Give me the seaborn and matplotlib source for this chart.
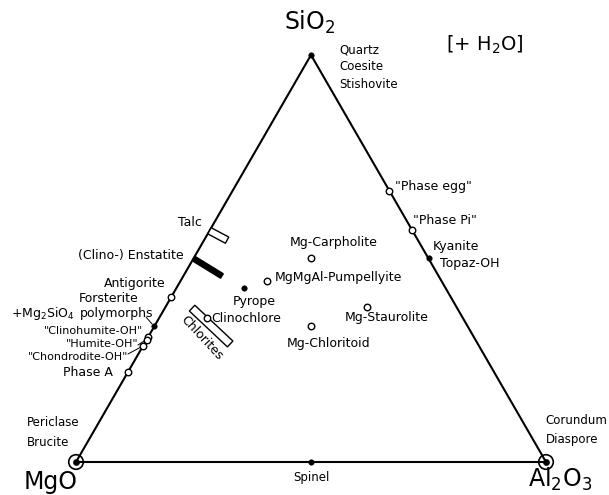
import numpy as np
import pandas as pd
import matplotlib.pyplot as plt
from matplotlib.patches import Polygon
import seaborn as sns

sns.set_style('white')
plt.rcParams['font.family'] = ['DejaVu Sans']
plt.rcParams['text.color'] = 'black'

# compositions as mole fractions of (MgO, Al2O3, SiO2)
open_names = ['Phase egg', 'Phase Pi', 'Mg-Carpholite', 'MgMgAl-Pumpellyite',
              'Mg-Staurolite', 'Mg-Chloritoid', 'Antigorite', 'Clinohumite-OH',
              'Humite-OH', 'Chondrodite-OH', 'Phase A', 'Clinochlore']
open_mgo = [0.0, 0.0, 0.25, 0.370, 0.190, 0.333, 0.595, 0.692, 0.700, 0.714, 0.778, 0.544]
open_al2o3 = [0.333, 0.429, 0.25, 0.185, 0.429, 0.333, 0.0, 0.0, 0.0, 0.0, 0.0, 0.102]
open_sio2 = [0.667, 0.571, 0.50, 0.444, 0.381, 0.333, 0.405, 0.308, 0.300, 0.286, 0.222, 0.354]

filled_names = ['SiO2', 'Kyanite', 'Pyrope', 'Forsterite', 'Spinel']
filled_mgo = [0.0, 0.0, 0.429, 0.667, 0.5]
filled_al2o3 = [0.0, 0.5, 0.143, 0.0, 0.5]
filled_sio2 = [1.0, 0.5, 0.429, 0.333, 0.0]

ringed_names = ['MgO', 'Al2O3']
ringed_mgo = [1.0, 0.0]
ringed_al2o3 = [0.0, 1.0]
ringed_sio2 = [0.0, 0.0]

# solid solution ranges (start, end) as (MgO, Al2O3, SiO2)
talc_range = [(0.432, 0.0, 0.568), (0.406, 0.049, 0.545)]
enstatite_range = [(0.5, 0.0, 0.5), (0.461, 0.082, 0.457)]
chlorite_range = [(0.564, 0.058, 0.378), (0.527, 0.183, 0.290)]


def tern(a, b, c):
    a, b, c = np.asarray(a, float), np.asarray(b, float), np.asarray(c, float)
    s = a + b + c
    return (b + c / 2) / s, (c * np.sqrt(3) / 2) / s


def px(x, y):
    # pixel position of the original figure -> data coords (for text placement)
    return (x - 76) / 470, (462 - y) / 470


def bar(ax, rng, half, fc):
    (x0, y0), (x1, y1) = [tern(*p) for p in rng]
    d = np.array([x1 - x0, y1 - y0])
    n = np.array([-d[1], d[0]]) / np.hypot(*d) * half
    pts = [(x0 + n[0], y0 + n[1]), (x1 + n[0], y1 + n[1]),
           (x1 - n[0], y1 - n[1]), (x0 - n[0], y0 - n[1])]
    ax.add_patch(Polygon(pts, closed=True, fc=fc, ec='black', lw=1.0, zorder=4))


fig = plt.figure(figsize=(6.09, 4.95), dpi=100)
ax = fig.add_axes([0, 0, 1, 1])
ax.set_xlim(px(0, 0)[0], px(609, 0)[0])
ax.set_ylim(px(0, 495)[1], px(0, 0)[1])
ax.set_axis_off()

# triangle
tx, ty = tern([1, 0, 0, 1], [0, 1, 0, 0], [0, 0, 1, 0])
edges = pd.DataFrame({'x': tx, 'y': ty})
sns.lineplot(data=edges, x='x', y='y', sort=False, estimator=None,
             color='black', lw=1.5, ax=ax, zorder=2)

# solid solutions
bar(ax, talc_range, 0.0075, 'white')
bar(ax, enstatite_range, 0.0055, 'black')
bar(ax, chlorite_range, 0.0085, 'white')

ox, oy = tern(open_mgo, open_al2o3, open_sio2)
fx, fy = tern(filled_mgo, filled_al2o3, filled_sio2)
rx, ry = tern(ringed_mgo, ringed_al2o3, ringed_sio2)
sns.scatterplot(x=ox, y=oy, marker='o', s=22, facecolor='white',
                edgecolor='black', linewidth=1.0, ax=ax, zorder=5)
sns.scatterplot(x=fx, y=fy, marker='o', s=16, color='black',
                edgecolor='black', ax=ax, zorder=5)
sns.scatterplot(x=rx, y=ry, marker='o', s=110, facecolor='none',
                edgecolor='black', linewidth=1.2, ax=ax, zorder=5)
sns.scatterplot(x=rx, y=ry, marker='o', s=20, color='black',
                edgecolor='black', ax=ax, zorder=5)

big = 17
mid = 9
small = 8.5
tiny = 8


def lab(x, y, s, size=mid, ha='left', **kw):
    ax.text(*px(x, y), s, fontsize=size, ha=ha, va='center', **kw)


# corner labels
lab(310, 22, 'SiO$_2$', big, 'center')
lab(51, 482, 'MgO', big, 'center')
lab(560, 479, 'Al$_2$O$_3$', big, 'center')
lab(485, 45, '[+ H$_2$O]', 14, 'center')

lab(339, 50, 'Quartz', small)
lab(339, 67, 'Coesite', small)
lab(339, 85, 'Stishovite', small)
lab(27, 422, 'Periclase', small)
lab(27, 442, 'Brucite', small)
lab(545, 421, 'Corundum', small)
lab(546, 440, 'Diaspore', small)
lab(311, 477, 'Spinel', small, 'center')

# right side
lab(395, 187, '"Phase egg"')
lab(413, 221, '"Phase Pi"')
lab(433, 247, 'Kyanite')
lab(440, 263, 'Topaz-OH')

# interior
lab(334, 243, 'Mg-Carpholite', ha='center')
lab(275, 277, 'MgMgAl-Pumpellyite')
lab(345, 317, 'Mg-Staurolite')
lab(287, 343, 'Mg-Chloritoid')
lab(233, 301, 'Pyrope')
lab(211, 318, 'Clinochlore')
ax.text(*px(202, 338), 'Chlorites', fontsize=mid, ha='center', va='center',
        rotation=-47, rotation_mode='anchor')

# left side
lab(202, 223, 'Talc', ha='right')
lab(184, 255, '(Clino-) Enstatite', ha='right')
lab(166, 283, 'Antigorite', ha='right')
lab(79, 299, 'Forsterite')
lab(80, 313, 'polymorphs')
lab(75, 313, '+Mg$_2$SiO$_4$', ha='right')
lab(143, 331, '"Clinohumite-OH"', tiny, ha='right')
lab(138, 344, '"Humite-OH"', tiny, ha='right')
lab(128, 357, '"Chondrodite-OH"', tiny, ha='right')
lab(113, 373, 'Phase A', ha='right')

# leader lines
for (x0, y0), (x1, y1) in [((146, 317), (152, 324)),
                           ((138, 345), (144, 341)),
                           ((128, 354), (141, 347))]:
    a0, b0 = px(x0, y0)
    a1, b1 = px(x1, y1)
    ax.plot([a0, a1], [b0, b1], color='black', lw=0.7, zorder=3)

fig.savefig('out.png', dpi=100)
